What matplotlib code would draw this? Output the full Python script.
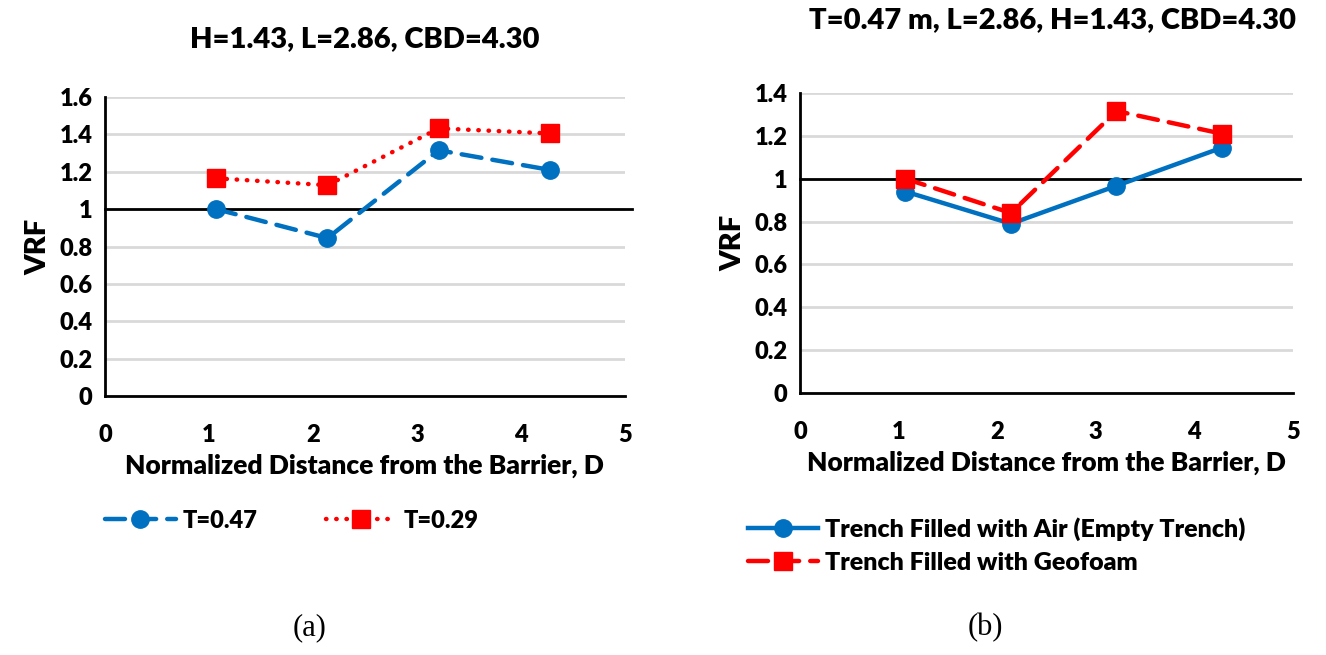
import matplotlib
matplotlib.use('Agg')
import matplotlib.pyplot as plt
from matplotlib.lines import Line2D

# normalized distance from the barrier
dist = [1.07, 2.14, 3.21, 4.28]

# (a) trench thickness comparison
vrf_t047 = [1.00, 0.845, 1.315, 1.21]
vrf_t029 = [1.165, 1.128, 1.432, 1.405]

# (b) fill material comparison
vrf_air = [0.94, 0.79, 0.967, 1.145]
vrf_geofoam = [1.00, 0.84, 1.316, 1.21]

title_a = 'H=1.43, L=2.86, CBD=4.30'
title_b = 'T=0.47 m, L=2.86, H=1.43, CBD=4.30'
labels_a = ['T=0.47', 'T=0.29']
labels_b = ['Trench Filled with Air (Empty Trench)', 'Trench Filled with Geofoam']

blue = '#0070C0'
red = '#FF0000'
W = 'heavy'
plt.rcParams['font.family'] = ['Lato', 'DejaVu Sans']
plt.rcParams['font.weight'] = W

fig = plt.figure(figsize=(13.26, 6.55), dpi=100)
ax1 = fig.add_axes([0.0792, 0.3954, 0.392, 0.4565])
ax2 = fig.add_axes([0.6033, 0.400, 0.3718, 0.458])

dashed = (0, (4.5, 2.5))
dotted = (0, (0.1, 2.2))
LW = 3.2
MS = 12.5


def style(ax, ymax):
    ax.set_xlim(0, 5)
    ax.set_ylim(0, ymax)
    ax.set_xticks(range(6))
    ticks = [round(0.2 * i, 1) for i in range(int(round(ymax / 0.2)) + 1)]
    ax.set_yticks(ticks)
    ax.set_yticklabels(['0' if t == 0 else ('1' if t == 1 else f'{t:.1f}') for t in ticks])
    ax.grid(axis='y', color='#d9d9d9', lw=2)
    ax.set_axisbelow(True)
    for s in ['top', 'right']:
        ax.spines[s].set_visible(False)
    for s in ['left', 'bottom']:
        ax.spines[s].set_linewidth(2)
    ax.tick_params(length=0, labelsize=17)
    ax.tick_params(axis='x', pad=20)
    ax.tick_params(axis='y', pad=9)
    for lab in ax.get_xticklabels() + ax.get_yticklabels():
        lab.set_fontweight(W)
    ax.set_ylabel('VRF', fontsize=21, fontweight=W, labelpad=6)
    ax.set_xlabel('Normalized Distance from the Barrier, D', fontsize=19,
                  fontweight=W, labelpad=6)
    # reference line at VRF = 1
    ax.plot([0, 5.07], [1, 1], color='black', lw=2, clip_on=False, zorder=2)


style(ax1, 1.6)
ax1.plot(dist, vrf_t047, color=blue, lw=LW, ls=dashed, marker='o', ms=MS,
         dash_capstyle='round', zorder=3)
ax1.plot(dist, vrf_t029, color=red, lw=LW, ls=dotted, marker='s', ms=MS,
         dash_capstyle='round', zorder=3)

style(ax2, 1.4)
ax2.plot(dist, vrf_air, color=blue, lw=LW, marker='o', ms=MS, zorder=3)
ax2.plot(dist, vrf_geofoam, color=red, lw=LW, ls=dashed, marker='s', ms=MS,
         dash_capstyle='round', zorder=3)

fig.text(0.275, 0.94, title_a, fontsize=21, fontweight=W, ha='center', va='center')
fig.text(0.794, 0.97, title_b, fontsize=21, fontweight=W, ha='center', va='center')

h_a = [Line2D([], [], color=blue, lw=LW, ls=dashed, marker='o', ms=MS, dash_capstyle='round'),
       Line2D([], [], color=red, lw=LW, ls=dotted, marker='s', ms=MS, dash_capstyle='round')]
fig.legend(h_a, labels_a, loc='center left', bbox_to_anchor=(0.063, 0.205), ncol=2,
           frameon=False, handlelength=3.0, handletextpad=0.3,
           columnspacing=2.9, prop={'weight': W, 'size': 17})

h_b = [Line2D([], [], color=blue, lw=LW, marker='o', ms=MS),
       Line2D([], [], color=red, lw=LW, ls=dashed, marker='s', ms=MS, dash_capstyle='round')]
fig.legend(h_b, labels_b, loc='center left', bbox_to_anchor=(0.547, 0.167), ncol=1,
           frameon=False, handlelength=2.8, handletextpad=0.3, labelspacing=0.45,
           prop={'weight': W, 'size': 18})

fig.text(0.2335, 0.03, '(a)', fontsize=22, family='Liberation Serif', fontweight='normal', ha='center')
fig.text(0.743, 0.03, '(b)', fontsize=22, family='Liberation Serif', fontweight='normal', ha='center')

fig.savefig('out.png', dpi=100)
